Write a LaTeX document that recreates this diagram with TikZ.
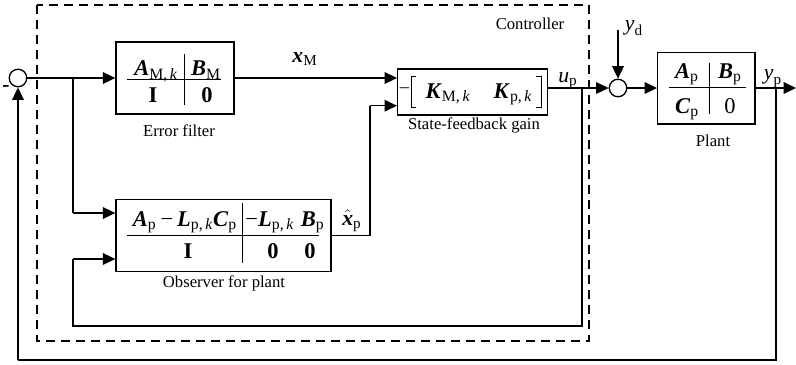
\documentclass[tikz,border=0pt]{standalone}
\usepackage{amsmath}
\usepackage{fontspec}
\setmainfont{Liberation Serif}
\usetikzlibrary{arrows.meta}
\newcommand{\bi}[1]{\textbf{\textit{#1}}}
\newcommand{\rmsub}[1]{\textrm{#1}}
\newcommand{\mn}{\textrm{−}}
\begin{document}
\begin{tikzpicture}[x=0.6pt,y=-0.6pt,line width=0.8pt,
  arr/.style={-{Triangle[length=7.5pt,width=7pt]}},
  blk/.style={draw,line width=0.8pt,inner sep=0pt},
  sumj/.style={draw,circle,minimum size=10.5pt,inner sep=0pt,line width=0.8pt},
  mt/.style={font=\fontsize{13.5}{15}\selectfont,inner sep=0pt,anchor=base},
  lbl/.style={font=\fontsize{10}{12}\selectfont,inner sep=0pt,anchor=base},
  sig/.style={font=\fontsize{13}{15}\selectfont,inner sep=0pt,anchor=base},
  ctrl/.style={draw,dashed,dash pattern=on 5.4pt off 3.6pt,line width=0.8pt}]
\useasboundingbox (0,0) rectangle (796,364);

% controller dashed frame
\draw[ctrl] (37,5) rectangle (589,341);
\node[lbl] (ctrllbl) at (530,29) {Controller};

% summing junctions
\node[sumj] (s1) at (18,78) {};
\node[sumj] (s2) at (618,88) {};
\node[lbl,font=\fontsize{13}{14}\selectfont\bfseries] (minus) at (6,91) {-};

% blocks
\node[blk,minimum width=70.8pt,minimum height=43.2pt] (ef) at (175,78) {};
\node[blk,minimum width=90pt,minimum height=27.6pt] (sf) at (472.7,92) {};
\node[blk,minimum width=129pt,minimum height=43.4pt] (obs) at (223.5,235.5) {};
\node[blk,minimum width=58.4pt,minimum height=43pt] (pl) at (706.4,88) {};

% error filter contents
\draw[line width=0.6pt] (127,79) -- (221,79);
\draw[line width=0.6pt] (184,54) -- (184,105);
\node[mt] (efa) at (156,75.5) {$\bi{A}_{\rmsub{M,\,}\textit{k}}$};
\node[mt] (efb) at (206,75.5) {$\bi{B}_{\rmsub{M}}$};
\node[mt] (efc) at (153,102.5) {\textbf{I}};
\node[mt] (efd) at (207,102.5) {\textbf{0}};
\node[lbl] (eflbl) at (179,136.5) {Error filter};

% state-feedback contents
\node[lbl,font=\fontsize{11}{12}\selectfont] (sfm) at (404.5,92.5) {–};
\draw[line width=0.5pt] (416,76.5) -- (411,76.5) -- (411,107.5) -- (416,107.5);
\draw[line width=0.5pt] (536,76.5) -- (541,76.5) -- (541,107.5) -- (536,107.5);
\node[mt] (sfk1) at (448,98) {$\bi{K}_{\rmsub{M,\,}\textit{k}}$};
\node[mt] (sfk2) at (513,98) {$\bi{K}_{\rmsub{p,\,}\textit{k}}$};
\node[lbl] (sflbl) at (474,129) {State-feedback gain};

% observer contents
\draw[line width=0.6pt] (127,235.7) -- (319,235.7);
\draw[line width=0.6pt] (242.3,203) -- (242.3,263);
\node[mt] (oba) at (185,226) {$\bi{A}_{\rmsub{p}}\,\mn\,\bi{L}_{\rmsub{p,\,}\textit{k}}\bi{C}_{\rmsub{p}}$};
\node[mt] (obb) at (285,226) {$\mn\bi{L}_{\rmsub{p,\,}\textit{k}}\;\bi{B}_{\rmsub{p}}$};
\node[mt] (obc) at (188,258) {\textbf{I}};
\node[mt] (obd) at (273,258) {\textbf{0}};
\node[mt] (obe) at (310,258) {\textbf{0}};
\node[lbl] (oblbl) at (224,287) {Observer for plant};

% plant contents
\draw[line width=0.6pt] (669,87.3) -- (746,87.3);
\draw[line width=0.6pt] (709.3,63) -- (709.3,114);
\node[mt] (pla) at (687,78) {$\bi{A}_{\rmsub{p}}$};
\node[mt] (plb) at (730,78) {$\bi{B}_{\rmsub{p}}$};
\node[mt] (plc) at (687,113) {$\bi{C}_{\rmsub{p}}$};
\node[mt] (pld) at (730,113) {0};
\node[lbl] (pllbl) at (713,146) {Plant};

% signal labels
\node[sig] (xm) at (305,62) {$\bi{x}_{\rmsub{M}}$};
\node[sig] (xh) at (352,225) {$\hat{\bi{x}}_{\rmsub{p}}$};
\node[sig] (up) at (568,82) {$\textit{u}_{\rmsub{p}}$};
\node[sig] (yd) at (634,30) {$\textit{y}_{\rmsub{d}}$};
\node[sig] (yp) at (773,79) {$\textit{y}_{\rmsub{p}}$};

% coordinates
\coordinate (b1) at (73,78);
\coordinate (b1d) at (73,213);
\coordinate (obin1) at (obs.west |- b1d);
\coordinate (b2) at (73,259);
\coordinate (obin2) at (obs.west |- b2);
\coordinate (xo) at (370,235.5);
\coordinate (xu) at (370,105.7);
\coordinate (sfin2) at (sf.west |- xu);
\coordinate (sfin1) at (sf.west |- ef.east);
\coordinate (sfout) at (sf.east |- s2.west);
\coordinate (lp) at (582,88);
\coordinate (lpd) at (582,326);
\coordinate (lpl) at (73,326);
\coordinate (ydtop) at (618,30);
\coordinate (out) at (796,88);
\coordinate (fb) at (776,88);
\coordinate (fbd) at (776,360);
\coordinate (fbl) at (18,360);

% connectors
\draw[arr] (s1.east) -- (ef.west);
\draw (b1) -- (b1d);
\draw[arr] (b1d) -- (obin1);
\draw[arr] (ef.east) -- (sfin1);
\draw (obs.east) -- (xo) -- (xu);
\draw[arr] (xu) -- (sfin2);
\draw[arr] (sfout) -- (s2.west);
\draw (lp) -- (lpd) -- (lpl) -- (b2);
\draw[arr] (b2) -- (obin2);
\draw[arr] (ydtop) -- (s2.north);
\draw[arr] (s2.east) -- (pl.west);
\draw[arr] (pl.east) -- (out);
\draw (fb) -- (fbd) -- (fbl);
\draw[arr] (fbl) -- (s1.south);
\end{tikzpicture}
\end{document}
